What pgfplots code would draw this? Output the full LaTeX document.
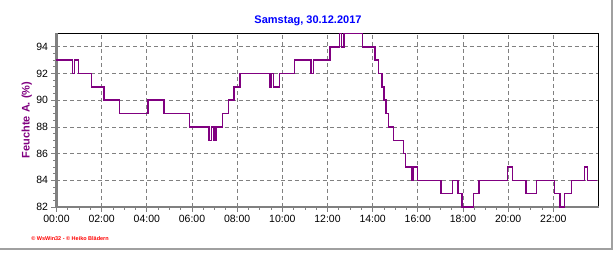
\documentclass[border=0pt]{standalone}
\usepackage{fontspec}
\setmainfont{Liberation Sans}
\usepackage{pgfplots}
\pgfplotsset{compat=1.18}
\definecolor{curve}{RGB}{128,0,128}
\definecolor{titleblue}{RGB}{0,0,255}
\definecolor{axgray}{RGB}{128,128,128}
\definecolor{framegray}{RGB}{160,160,160}
\definecolor{footred}{RGB}{255,0,0}
\begin{document}
\begin{tikzpicture}
\useasboundingbox (-56.5pt,-46pt) rectangle (559.5pt,207pt);
\begin{axis}[
  scale only axis, width=542pt, height=173.5pt,
  xmin=0, xmax=24, ymin=82, ymax=95,
  xtick={0,2,...,22},
  xticklabels={00:00,02:00,04:00,06:00,08:00,10:00,12:00,14:00,16:00,18:00,20:00,22:00},
  ytick={82,84,...,94},
  minor x tick num=3, minor y tick num=3,
  xtick pos=left, ytick pos=left,
  tick align=outside,
  major tick length=5pt, minor tick length=3pt,
  every tick/.style={axgray, line width=0.8pt},
  grid=major,
  major grid style={axgray, line width=0.7pt, dash pattern=on 4pt off 3pt},
  axis line style={draw=none},
  /pgf/number format/assume math mode=true,
  tick label style={font=\fontsize{10.5}{12}\selectfont, black},
  clip=false,
]
\draw[black, line width=1pt] (rel axis cs:0,1) -- (rel axis cs:1,1) -- (rel axis cs:1,0);
\draw[axgray, line width=2.5pt] (rel axis cs:0,1) -- (rel axis cs:0,0) -- (rel axis cs:1,0);
\addplot[const plot, color=curve, line width=1.5pt] coordinates {
(0,93) (0.70,92) (0.80,93) (0.97,92) (1.55,91) (2.10,90) (2.78,89)
(4.05,90) (4.77,89) (5.88,88) (6.75,87) (6.87,88) (6.97,87) (7.07,88)
(7.34,89) (7.61,90) (7.86,91) (8.12,92) (9.45,91) (9.53,92) (9.60,91)
(9.87,92) (10.53,93) (11.27,92) (11.38,93) (12.12,94) (12.53,95)
(12.62,94) (12.72,95) (13.56,94) (14.10,93) (14.25,92) (14.42,91)
(14.50,90) (14.58,89) (14.70,88) (14.92,87) (15.36,86) (15.45,85)
(15.75,84) (15.80,85) (15.98,84) (17.03,83) (17.53,84) (17.78,83)
(17.95,82) (18.47,83) (18.70,84) (19.98,85) (20.20,84) (20.80,83)
(21.25,84) (22.05,83) (22.30,82) (22.50,83) (22.80,84) (23.38,85)
(23.52,84) (23.95,84)
};
\end{axis}
\node[font=\fontsize{11}{13}\selectfont\bfseries, text=titleblue] at (251.5pt,186pt) {Samstag, 30.12.2017};
\node[font=\fontsize{11}{13}\selectfont\bfseries, text=curve, rotate=90] at (-29.8pt,87pt) {Feuchte A. (\%)};
\node[font=\fontsize{5.5}{7}\selectfont\bfseries, text=footred] at (13.5pt,-31.7pt) {© WsWin32 - © Heiko Blädern};
\draw[framegray, line width=2pt] (555.5pt,207pt) -- (555.5pt,-42pt) -- (-56.5pt,-42pt);
\end{tikzpicture}
\end{document}
